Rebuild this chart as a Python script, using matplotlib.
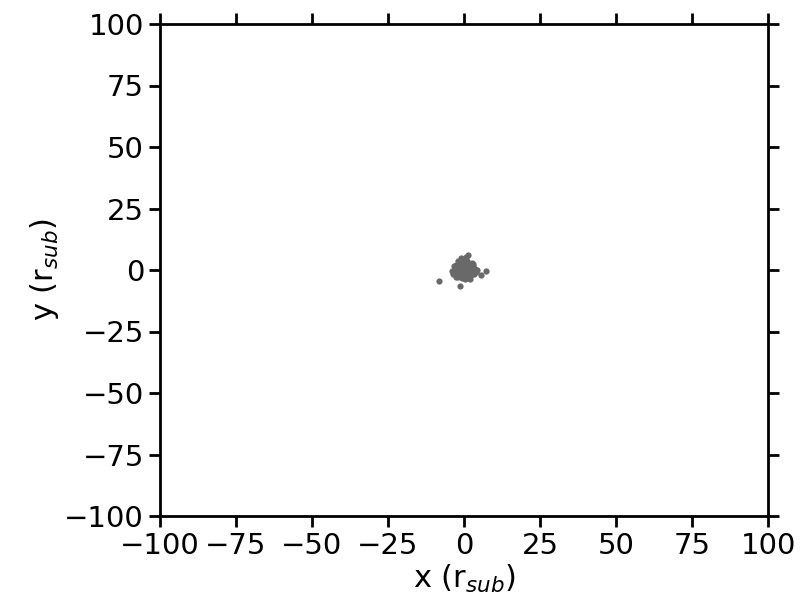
import numpy as np
import matplotlib
matplotlib.use('Agg')
import matplotlib.pyplot as plt

# positions in units of r_sub
x = [-8.2, -1.3, 7.2, 5.6, 1.3, 3.5, -3.0, -2.5, -2.0, -1.5, -1.0, -0.5, 0.0, 0.5,
     1.0, 1.5, 2.0, 2.5, 3.0, -2.8, -2.2, -1.7, -1.2, -0.7, -0.2, 0.3, 0.8, 1.3,
     1.8, 2.3, -2.0, -1.4, -0.8, -0.3, 0.2, 0.7, 1.2, 1.7, 2.2, -1.0, -0.4, 0.1,
     0.6, 1.1, -3.5, -3.2, 3.8, 4.2, -0.6, 0.4, -1.8, 2.8, -2.6, 1.9, 0.0, -0.9,
     3.2, -3.8, 2.6, -1.1]
y = [-4.3, -6.4, -0.4, -2.0, 6.1, 0.3, 0.5, 2.0, 3.5, 1.0, 4.0, 2.5, 1.5, 3.0,
     0.8, 2.2, 1.2, -0.5, 1.8, -1.5, -0.8, -2.0, -0.2, -1.2, 0.0, -0.7, -1.8, -0.3,
     -1.0, 0.5, -3.0, -2.6, -3.3, -2.2, -3.5, -2.8, -2.3, -3.1, -2.0, 5.0, 4.6, 4.2,
     5.3, 3.8, -1.8, 1.8, -1.0, -0.2, 0.9, 0.6, 1.5, 2.5, -2.8, -3.6, -1.5, -1.0,
     -1.8, -0.5, 3.0, 2.8]
ticks = [-100, -75, -50, -25, 0, 25, 50, 75, 100]

plt.rcParams['font.size'] = 22

fig = plt.figure(figsize=(8, 6), dpi=100)
ax = fig.add_axes([0.2, 0.14, 0.76, 0.82])

ax.plot(x, y, 'o', color='dimgray', markersize=4.5, markeredgewidth=0)

ax.set_xlim(-100, 100)
ax.set_ylim(-100, 100)
ax.set_xticks(ticks)
ax.set_yticks(ticks)
ax.set_xlabel('x (r$_{sub}$)', labelpad=2)
ax.set_ylabel('y (r$_{sub}$)', labelpad=2)

for s in ax.spines.values():
    s.set_linewidth(2)
ax.tick_params(direction='out', length=8, width=2, top=True, right=True,
               labelsize=21)

plt.savefig('out.png', dpi=100)
